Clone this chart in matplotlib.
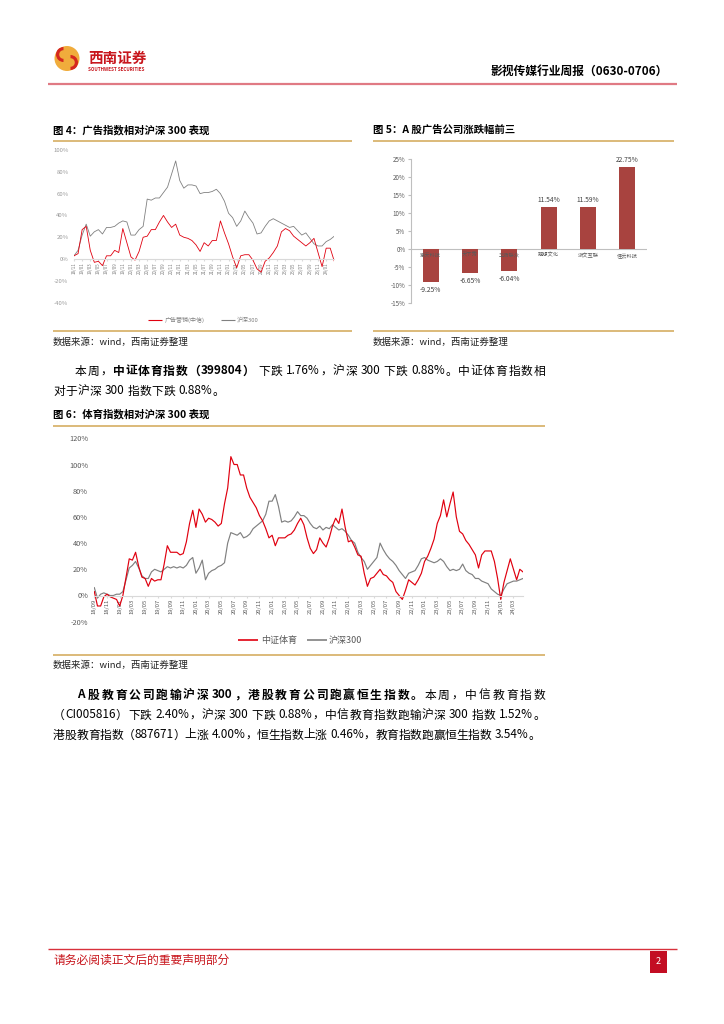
# plot.py
# Report page: ad index vs CSI 300, top movers bar chart, sports index vs CSI 300.
import numpy as np
import matplotlib
matplotlib.use("Agg")
import matplotlib.pyplot as plt
from matplotlib.patches import Rectangle, Circle, Wedge

plt.rcParams['font.family'] = ['Noto Sans CJK SC', 'DejaVu Sans']
plt.rcParams['axes.unicode_minus'] = False

# ---- figure 4: ad index vs CSI 300 (monthly, cumulative %) ----
f4_ticks = ['18/11', '19/01', '19/03', '19/05', '19/07', '19/09', '19/11',
            '20/01', '20/03', '20/05', '20/07', '20/09', '20/11',
            '21/01', '21/03', '21/05', '21/07', '21/09', '21/11',
            '22/01', '22/03', '22/05', '22/07', '22/09', '22/11',
            '23/01', '23/03', '23/05', '23/07', '23/09', '23/11', '24/01']
f4_ad = [3, 5, 27, 30, 8, -3, -2, -6, 3, 3, 8, 6, 28, 15, 2, -1, 7, 20, 21, 27,
         27, 34, 40, 34, 29, 32, 22, 20, 19, 17, 13, 7, 15, 12, 17, 17, 35, 24, 14, 2,
         -8, 3, 4, 4, -1, -9, -12, -2, 1, 6, 12, 25, 28, 26, 21, 18, 15, 12, 15, 19,
         6, -7, 10, 10, -2]
f4_hs = [3, 8, 22, 32, 21, 25, 27, 23, 29, 29, 30, 33, 35, 34, 22, 22, 27, 30, 55, 54,
         56, 56, 61, 66, 78, 90, 72, 65, 68, 68, 67, 60, 61, 61, 62, 64, 60, 53, 42, 38,
         30, 35, 44, 38, 33, 23, 24, 30, 35, 37, 35, 33, 31, 29, 30, 26, 22, 24, 19, 14,
         12, 12, 16, 18, 21]

# ---- figure 5: top / bottom three ad companies (%) ----
f5_names = ['紫天科技', '天下秀', '华扬联众', '观想文化', '浙文互联', '佳云科技']
f5_vals = [-9.25, -6.65, -6.04, 11.54, 11.59, 22.75]

# ---- figure 6: sports index vs CSI 300 (half-month, cumulative %) ----
f6_ticks = ['18/09', '18/11', '19/01', '19/03', '19/05', '19/07', '19/09', '19/11',
            '20/01', '20/03', '20/05', '20/07', '20/09', '20/11',
            '21/01', '21/03', '21/05', '21/07', '21/09', '21/11',
            '22/01', '22/03', '22/05', '22/07', '22/09', '22/11',
            '23/01', '23/03', '23/05', '23/07', '23/09', '23/11', '24/01', '24/03']
f6_sport = [3, -8, -8, -1, 1, -1, -2, -3, -8, 0,
            14, 28, 27, 33, 22, 14, 13, 7, 13, 11,
            12, 12, 24, 38, 33, 33, 33, 31, 32, 41,
            55, 65, 52, 66, 62, 56, 59, 58, 56, 53,
            55, 70, 82, 106, 100, 100, 92, 92, 82, 75,
            71, 67, 61, 57, 51, 44, 46, 38, 44, 44,
            44, 46, 47, 50, 55, 59, 54, 44, 36, 32,
            35, 44, 40, 37, 44, 53, 59, 55, 66, 52,
            41, 42, 37, 31, 30, 17, 7, 13, 14, 17,
            20, 16, 15, 12, 10, 3, 0, -3, 4, 12,
            10, 8, 12, 17, 26, 30, 36, 43, 55, 61,
            73, 60, 70, 79, 60, 49, 47, 42, 39, 35,
            31, 21, 31, 34, 34, 34, 26, 13, -3, 10,
            19, 28, 20, 12, 20, 18]
f6_hs = [6, -2, 1, 2, 1, 0, 0, 1, 1, 3,
         12, 21, 23, 26, 21, 15, 13, 13, 18, 20,
         19, 18, 20, 22, 21, 22, 21, 22, 21, 23,
         27, 29, 17, 21, 27, 12, 17, 19, 20, 22,
         23, 25, 40, 48, 47, 46, 48, 44, 45, 47,
         51, 53, 55, 57, 62, 72, 72, 77, 68, 56,
         57, 56, 57, 60, 64, 61, 61, 59, 55, 52,
         51, 53, 50, 52, 51, 54, 52, 50, 51, 49,
         46, 42, 40, 33, 29, 26, 20, 23, 26, 29,
         40, 35, 31, 28, 26, 23, 19, 16, 13, 17,
         18, 19, 23, 28, 29, 27, 26, 25, 26, 28,
         26, 22, 19, 20, 19, 20, 24, 19, 17, 16,
         13, 13, 11, 10, 9, 5, 3, 1, 0, 5,
         9, 10, 11, 11, 12, 13]

RED = '#e0000f'
GRAY = '#808080'
TAN = '#d9b46e'
BRAND = '#c8161d'
SOURCE = '数据来源：wind，西南证券整理'

W, H = 724, 1024
fig = plt.figure(figsize=(W / 100, H / 100), dpi=100)
page = fig.add_axes([0, 0, 1, 1])
page.set_xlim(0, W)
page.set_ylim(H, 0)
page.axis('off')
renderer = fig.canvas.get_renderer()


def box(x0, y0, x1, y1):
    return fig.add_axes([x0 / W, 1 - y1 / H, (x1 - x0) / W, (y1 - y0) / H])


def hline(x0, x1, y, color, lw):
    page.plot([x0, x1], [y, y], color=color, lw=lw, solid_capstyle='butt')


_wcache = {}


def width(s, size, bold):
    t = page.text(0, 0, s, fontsize=size, fontweight='bold' if bold else 'normal')
    w = t.get_window_extent(renderer=renderer).width
    t.remove()
    return w


def advance(tok, size, bold):
    key = (size, bold)
    if key not in _wcache:
        _wcache[key] = width('中中', size, bold)
    return width('中' + tok + '中', size, bold) - _wcache[key]


def text_line(x0, y, runs, size=8.5, x1=None, track=0.3, color='black'):
    # split into tokens: each CJK char alone, ascii words kept together
    toks = []
    for s, bold in runs:
        buf = ''
        for ch in s:
            if ord(ch) < 128 and ch != ' ':
                buf += ch
                continue
            if buf:
                toks.append((buf, bold))
                buf = ''
            toks.append((ch, bold))
        if buf:
            toks.append((buf, bold))
    ws = []
    for tok, bold in toks:
        if tok == ' ':
            ws.append(size * 0.28 * 100 / 72)
        else:
            ws.append(advance(tok, size, bold))
    # gaps only between two visible tokens (spaces keep their own width)
    joins = [toks[i][0] != ' ' and toks[i + 1][0] != ' ' for i in range(len(toks) - 1)]
    gap = track
    if x1 is not None and sum(joins) > 0:
        gap = (x1 - x0 - sum(ws)) / sum(joins)
    x = x0
    for i, ((tok, bold), w) in enumerate(zip(toks, ws)):
        if tok != ' ':
            page.text(x, y, tok, fontsize=size, fontweight='bold' if bold else 'normal',
                      ha='left', va='center', color=color)
        x += w
        if i < len(joins) and joins[i]:
            x += gap


def style_time_axis(ax, xsize, ysize, xcolor, ycolor, ypad):
    for s in ['left', 'top', 'right']:
        ax.spines[s].set_visible(False)
    ax.spines['bottom'].set_position(('data', 0))
    ax.spines['bottom'].set_color('#d9d9d9')
    ax.spines['bottom'].set_linewidth(0.8)
    ax.tick_params(axis='x', labelsize=xsize, labelcolor=xcolor, length=1.5,
                   color='#d9d9d9', pad=1, labelrotation=90)
    ax.tick_params(axis='y', labelsize=ysize, labelcolor=ycolor, length=0, pad=ypad)
    for lab in ax.get_xticklabels():
        lab.set_rotation(90)
        lab.set_va('top')
        lab.set_ha('center')
    ax.patch.set_alpha(0)


# ---- header ----
page.add_patch(Circle((67, 58.5), 12.5, facecolor='#f0ac3c', edgecolor='none'))
page.add_patch(Wedge((63.5, 54.5), 7.5, 90, 270, width=3.2, facecolor='#d5281f', edgecolor='none'))
page.add_patch(Wedge((70.5, 62.5), 7.5, -90, 90, width=3.2, facecolor='#d5281f', edgecolor='none'))
page.text(88, 57.5, '西南证券', fontsize=10.5, fontweight='bold', color=BRAND, va='center')
page.text(88, 69.5, 'SOUTHWEST SECURITIES', fontsize=3.3, fontweight='bold', color=BRAND, va='center')
page.text(668, 71, '影视传媒行业周报（0630-0706）', fontsize=8.5, fontweight='bold',
          ha='right', va='center')
hline(48, 677, 84, '#e07a84', 1.6)

# ---- figure 4 ----
page.text(53, 130, '图 4：广告指数相对沪深 300 表现', fontsize=7.5, fontweight='bold', va='center')
hline(53, 352, 140.7, TAN, 1.3)
hline(53, 352, 330.7, TAN, 1.3)
page.text(53, 342, SOURCE, fontsize=6.8, va='center', color='#222222')

ax4 = box(74, 150, 334.3, 302.7)
x4 = np.arange(len(f4_ad)) * 1.0
ax4.plot(x4, f4_hs, color=GRAY, lw=0.6)
ax4.plot(x4, f4_ad, color=RED, lw=0.6)
ax4.set_xlim(0, 64)
ax4.set_ylim(-40, 100)
ax4.spines['bottom'].set_position(('data', 0))
ax4.set_yticks(range(-40, 101, 20))
ax4.set_yticklabels([f'{v}%' for v in range(-40, 101, 20)])
ax4.set_xticks(np.arange(len(f4_ticks)) * 2)
ax4.set_xticklabels(f4_ticks)
style_time_axis(ax4, 3.2, 4.3, '#7f7f7f', '#9a9a9a', 4)

hline(148, 162, 320, RED, 0.8)
page.text(165, 320, '广告营销(中信)', fontsize=4.3, color='#808080', va='center')
hline(221, 235, 320, GRAY, 0.8)
page.text(237, 320, '沪深300', fontsize=4.3, color='#808080', va='center')

# ---- figure 5 ----
page.text(373, 130, '图 5：A 股广告公司涨跌幅前三', fontsize=7.5, fontweight='bold', va='center')
hline(373, 674, 140.7, TAN, 1.3)
hline(373, 674, 330.7, TAN, 1.3)
page.text(373, 342, SOURCE, fontsize=6.8, va='center', color='#222222')

ax5 = box(411, 159, 647, 302.7)
pos = np.arange(len(f5_vals))
ax5.bar(pos, f5_vals, width=0.4, color='#a8433f', zorder=2)
ax5.axhline(0, color='#bfbfbf', lw=0.8, zorder=1)
ax5.set_xlim(-0.5, len(f5_vals) - 0.5)
ax5.set_ylim(-15, 25)
ax5.set_yticks(range(-15, 26, 5))
ax5.set_yticklabels([f'{v}%' for v in range(-15, 26, 5)])
ax5.set_xticks([])
for s in ['bottom', 'top', 'right']:
    ax5.spines[s].set_visible(False)
ax5.spines['left'].set_color('#bfbfbf')
ax5.spines['left'].set_linewidth(0.8)
ax5.tick_params(axis='y', labelsize=4.5, labelcolor='#595959', length=2.5, color='#bfbfbf', pad=1.5)
for i, (name, v) in enumerate(zip(f5_names, f5_vals)):
    ax5.text(i, -1.8, name, ha='center', va='center', fontsize=3.8, color='#595959', zorder=3)
    off = 2.1 if v > 0 else -2.3
    ax5.text(i, v + off, f'{v:.2f}%', ha='center', va='center', fontsize=4.8, color='#404040')
ax5.patch.set_alpha(0)

# ---- paragraph 1 ----
text_line(75, 371, [('本周，', False), ('中证体育指数（399804）', True),
                    (' 下跌 1.76%，沪深 300 下跌 0.88%。中证体育指数相', False)], x1=545)
text_line(53, 391, [('对于沪深 300 指数下跌 0.88%。', False)])

# ---- figure 6 ----
page.text(53, 414, '图 6：体育指数相对沪深 300 表现', fontsize=7.5, fontweight='bold', va='center')
hline(53, 545, 425.5, TAN, 1.3)
hline(53, 545, 654.5, TAN, 1.3)
page.text(53, 665, SOURCE, fontsize=6.8, va='center', color='#222222')

ax6 = box(94.3, 438.3, 523, 621.7)
x6 = np.arange(len(f6_sport)) * 0.5
ax6.plot(x6, f6_hs, color=GRAY, lw=0.85)
ax6.plot(x6, f6_sport, color=RED, lw=0.85)
ax6.set_xlim(0, 67.5)
ax6.set_ylim(-20, 120)
ax6.spines['bottom'].set_position(('data', 0))
ax6.set_yticks(range(-20, 121, 20))
ax6.set_yticklabels([f'{v}%' for v in range(-20, 121, 20)])
ax6.set_xticks(np.arange(len(f6_ticks)) * 2)
ax6.set_xticklabels(f6_ticks)
style_time_axis(ax6, 4.2, 5.3, '#595959', '#595959', 4.5)

hline(238, 258, 640, RED, 1.2)
page.text(261, 640, '中证体育', fontsize=6.5, color='#595959', va='center')
hline(307, 327, 640, GRAY, 1.2)
page.text(329, 640, '沪深300', fontsize=6.5, color='#595959', va='center')

# ---- paragraph 2 ----
text_line(77, 695, [('A 股教育公司跑输沪深 300，港股教育公司跑赢恒生指数。', True),
                    ('本周，中信教育指数', False)], x1=545)
text_line(53, 715, [('（CI005816）下跌 2.40%，沪深 300 下跌 0.88%，中信教育指数跑输沪深 300 指数 1.52%。',
                     False)], x1=545)
text_line(53, 735, [('港股教育指数（887671）上涨 4.00%，恒生指数上涨 0.46%，教育指数跑赢恒生指数 3.54%。',
                     False)], x1=540)

# ---- footer ----
hline(48, 677, 948.5, '#d8313c', 1.0)
page.text(53, 960, '请务必阅读正文后的重要声明部分', fontsize=8.5, color=BRAND, va='center')
page.add_patch(Rectangle((650, 951), 17, 22, facecolor='#c30d23', edgecolor='none'))
page.text(658.5, 962, '2', fontsize=6.5, color='white', ha='center', va='center')

fig.savefig('out.png', dpi=100)
plt.close(fig)
